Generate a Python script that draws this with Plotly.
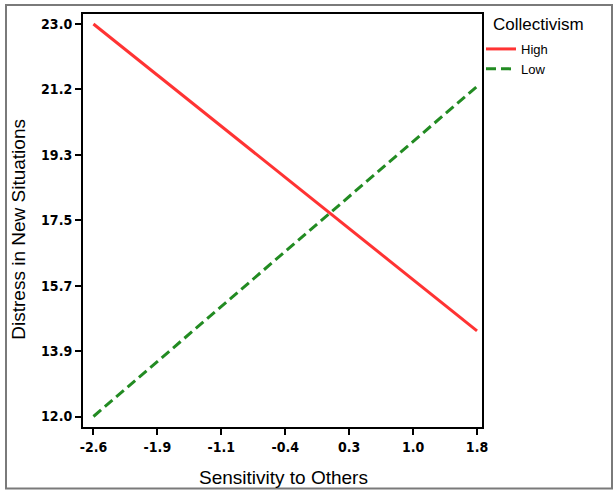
import plotly.graph_objects as go

x_vals = [-2.6, 1.8]
high_vals = [23.0, 14.4]
low_vals = [12.0, 21.25]
series_names = ["High", "Low"]

x_tickvals = [-2.6, -1.8667, -1.1333, -0.4, 0.3333, 1.0667, 1.8]
x_ticktext = ["-2.6", "-1.9", "-1.1", "-0.4", "0.3", "1.0", "1.8"]
y_tickvals = [12.0, 13.8333, 15.6667, 17.5, 19.3333, 21.1667, 23.0]
y_ticktext = ["12.0", "13.9", "15.7", "17.5", "19.3", "21.2", "23.0"]

W, H = 615, 491
L, R, T, B = 83, 133, 14, 63.5
pw, ph = W - L - R, H - T - B


def px(xp):
    return (xp - L) / pw


def py(yp):
    return (H - B - yp) / ph


fig = go.Figure()
fig.add_trace(go.Scatter(x=x_vals, y=high_vals, mode="lines", name=series_names[0],
                         line=dict(color="#ff3333", width=3)))
fig.add_trace(go.Scatter(x=x_vals, y=low_vals, mode="lines", name=series_names[1],
                         line=dict(color="#228b22", width=3, dash="10px,5px")))

tickfont = dict(family="Liberation Sans Narrow, DejaVu Sans Condensed, Arial", size=14, color="black")
titlefont = dict(family="Liberation Sans, Arial", size=19, color="black")

fig.update_layout(
    width=W, height=H,
    margin=dict(l=L, r=R, t=T, b=B, autoexpand=False),
    paper_bgcolor="white", plot_bgcolor="white",
    showlegend=True,
    legend=dict(
        font=dict(family="Liberation Sans, Arial", size=13, color="black"),
        x=px(481), xanchor="left", y=py(34), yanchor="top",
        bgcolor="rgba(0,0,0,0)",
        tracegroupgap=0,
    ),
    xaxis=dict(
        range=[-2.72, 1.857], tickvals=x_tickvals, ticktext=x_ticktext,
        tickfont=dict(tickfont, weight="bold"),
        showline=True, linecolor="black", linewidth=2, mirror=True,
        ticks="outside", ticklen=6, tickwidth=2, tickcolor="black",
        showgrid=False, zeroline=False,
    ),
    yaxis=dict(
        range=[11.706, 23.28], tickvals=y_tickvals, ticktext=y_ticktext,
        tickfont=dict(tickfont, weight="bold"),
        showline=True, linecolor="black", linewidth=2, mirror=True,
        ticks="outside", ticklen=6, tickwidth=2, tickcolor="black",
        showgrid=False, zeroline=False,
    ),
    annotations=[
        dict(text="Sensitivity to Others", xref="paper", yref="paper",
             x=px(283), y=py(478), xanchor="center", yanchor="middle",
             showarrow=False, font=titlefont),
        dict(text="Distress in New Situations", xref="paper", yref="paper",
             x=px(19), y=py(230), xanchor="center", yanchor="middle",
             textangle=-90, showarrow=False, font=titlefont),
        dict(text="Collectivism", xref="paper", yref="paper",
             x=px(491), y=py(25), xanchor="left", yanchor="middle",
             showarrow=False, font=dict(family="Liberation Sans, Arial", size=17, color="black")),
    ],
    shapes=[dict(
        type="rect", xref="paper", yref="paper",
        x0=px(6), x1=px(612), y0=py(489), y1=py(5),
        line=dict(color="#7a7a7a", width=2), fillcolor="rgba(0,0,0,0)", layer="below",
    )],
)

fig.write_html("out.html", config={"displayModeBar": False},
               post_script="document.body.style.margin='0';document.body.style.overflow='hidden';")
